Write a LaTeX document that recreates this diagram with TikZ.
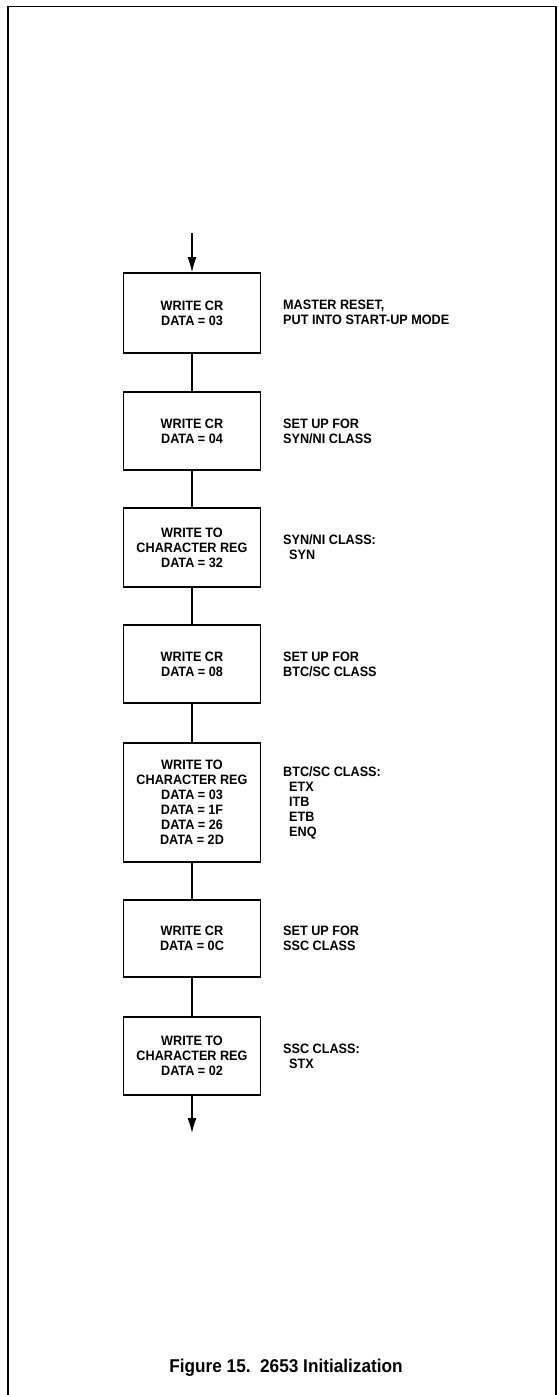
\documentclass[tikz,border=0pt]{standalone}
\usepackage{fontspec}
\setmainfont{Liberation Sans}[FakeStretch=0.93]
\usetikzlibrary{arrows.meta}
\begin{document}
\begin{tikzpicture}[x=1pt,y=-1pt,
  txt/.style={font=\fontsize{13.6}{15}\selectfont\bfseries, inner sep=0pt},
  box/.style={txt, draw, line width=1.8pt, minimum width=137pt, align=center},
  lbl/.style={txt, anchor=west, align=left},
  conn/.style={line width=1.2pt},
  arr/.style={conn, -{Latex[length=15pt,width=9pt]}}]
\useasboundingbox (0,0) rectangle (559,1395);
% frame
\draw[line width=1.8pt] (8,1396) -- (8,6.5) -- (556,6.5) -- (556,1396);
% boxes
\node[box, minimum height=80pt] (b1) at (192,313) {WRITE CR\\DATA = 03};
\node[box, minimum height=78pt] (b2) at (192,431) {WRITE CR\\DATA = 04};
\node[box, minimum height=79pt] (b3) at (192,547.5) {WRITE TO\\CHARACTER REG\\DATA = 32};
\node[box, minimum height=78pt] (b4) at (192,664) {WRITE CR\\DATA = 08};
\node[box, minimum height=119pt] (b5) at (192,802.5) {WRITE TO\\CHARACTER REG\\DATA = 03\\DATA = 1F\\DATA = 26\\DATA = 2D};
\node[box, minimum height=77pt] (b6) at (192,938.5) {WRITE CR\\DATA = 0C};
\node[box, minimum height=78pt] (b7) at (192,1056) {WRITE TO\\CHARACTER REG\\DATA = 02};
% labels
\node[lbl] (l1) at (283,312) {MASTER RESET,\\PUT INTO START-UP MODE};
\node[lbl] (l2) at (283,431) {SET UP FOR\\SYN/NI CLASS};
\node[lbl] (l3) at (283,547.5) {SYN/NI CLASS:\\\hspace*{6pt}SYN};
\node[lbl] (l4) at (283,664) {SET UP FOR\\BTC/SC CLASS};
\node[lbl] (l5) at (283,803) {BTC/SC CLASS:\\\hspace*{6pt}ETX\\\hspace*{6pt}ITB\\\hspace*{6pt}ETB\\\hspace*{6pt}ENQ};
\node[lbl] (l6) at (283,938.5) {SET UP FOR\\SSC CLASS};
\node[lbl] (l7) at (283,1056) {SSC CLASS:\\\hspace*{6pt}STX};
% connectors
\coordinate (in) at (192,233);
\coordinate (out) at (192,1133);
\draw[arr] (in) -- (b1.north);
\draw[conn] (b1) -- (b2);
\draw[conn] (b2) -- (b3);
\draw[conn] (b3) -- (b4);
\draw[conn] (b4) -- (b5);
\draw[conn] (b5) -- (b6);
\draw[conn] (b6) -- (b7);
\draw[arr] (b7.south) -- (out);
% caption
\node[inner sep=0pt, font=\fontsize{18.5}{20}\selectfont\bfseries] (cap) at (286,1368) {Figure 15.\ \ 2653 Initialization};
\end{tikzpicture}
\end{document}
